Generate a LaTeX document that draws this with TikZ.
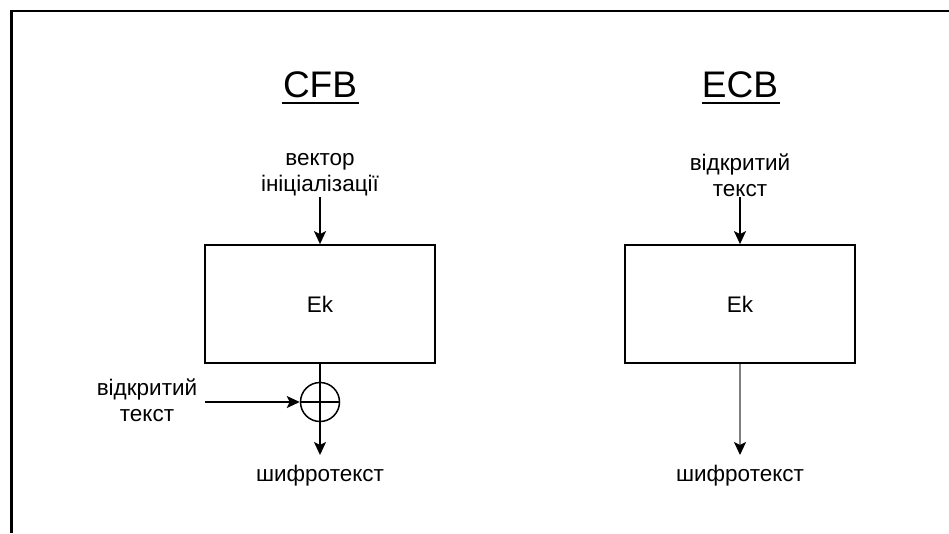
\documentclass[tikz,border=0pt]{standalone}
\usepackage{fontspec}
\setmainfont{Liberation Sans}
\usetikzlibrary{arrows.meta}
\begin{document}
\begin{tikzpicture}[x=1pt,y=-1pt,
  lbl/.style={font=\fontsize{22.5}{26}\selectfont, align=center, inner sep=0pt},
  ttl/.style={font=\fontsize{37}{42}\selectfont, inner sep=0pt},
  blk/.style={draw, line width=1.8pt, minimum width=230pt, minimum height=118pt, inner sep=0pt, font=\fontsize{22.5}{26}\selectfont},
  arr/.style={line width=1.8pt, -{Stealth[length=13pt,width=12pt,inset=3pt]}},
  xorc/.style={draw, circle, line width=1.5pt, minimum size=39pt, inner sep=0pt}
]
\useasboundingbox (0,0) rectangle (949,533);
% frame
\draw[line width=2.2pt] (11.5,533) -- (11.5,11) -- (949,11);

% CFB
\node[ttl] (tcfb) at (320,85) {CFB};
\draw[line width=1.8pt] (282,103) -- (359,103);
\node[lbl] (iv) at (320,175) {вектор\\ініціалізації};
\node[blk] (ekc) at (320,304) {Ek};
\node[xorc] (xor) at (320,402) {};
\draw[line width=1.5pt] (xor.north) -- (xor.south) (xor.west) -- (xor.east);
\node[lbl] (ptc) at (147,400) {відкритий\\текст};
\node[lbl] (ctc) at (320,476) {шифротекст};
\coordinate (ivs) at (320,197);
\coordinate (pts) at (205,402);
\coordinate (cte) at (320,455);
\draw[arr] (ivs) -- (ekc.north);
\draw[line width=1.8pt] (ekc.south) -- (xor.north);
\draw[arr] (pts) -- (xor.west);
\draw[arr] (xor.south) -- (cte);

% ECB
\node[ttl] (tecb) at (740,85) {ECB};
\draw[line width=1.8pt] (702,103) -- (780,103);
\node[lbl] (pte) at (740,175) {відкритий\\текст};
\node[blk] (eke) at (740,304) {Ek};
\node[lbl] (cte2) at (740,476) {шифротекст};
\coordinate (pes) at (740,197);
\coordinate (cee) at (740,455);
\draw[arr] (pes) -- (eke.north);
\draw[line width=2pt, draw=gray, -{Stealth[length=13pt,width=12pt,inset=3pt,black]}] (eke.south) -- (cee);
\end{tikzpicture}
\end{document}
